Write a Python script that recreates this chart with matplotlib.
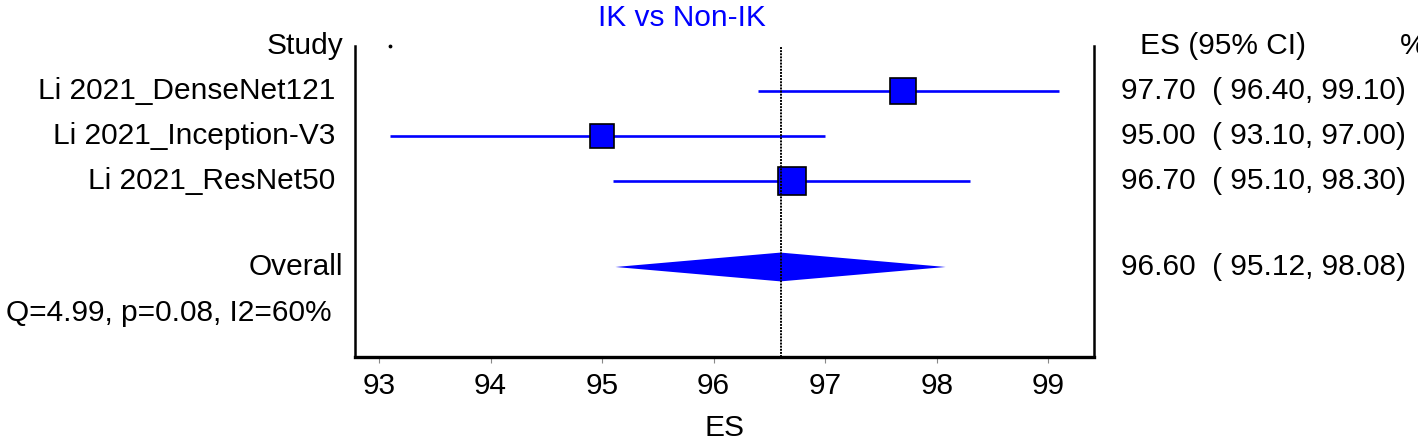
import matplotlib
matplotlib.use("Agg")
import matplotlib.pyplot as plt
import matplotlib.transforms as mtransforms
import numpy as np

plt.rcParams["font.family"] = ["Liberation Sans", "DejaVu Sans"]

# data
studies = ["Li 2021_DenseNet121", "Li 2021_Inception-V3", "Li 2021_ResNet50"]
es = [97.70, 95.00, 96.70]
ci_low = [96.40, 93.10, 95.10]
ci_high = [99.10, 97.00, 98.30]
weights = [35.3, 26.7, 38.0]   # (column cut off)
overall_es = 96.60
overall_low = 95.12
overall_high = 98.08
het_text = "Q=4.99, p=0.08, I2=60%"
xticks = [93, 94, 95, 96, 97, 98, 99]

W, H = 1418, 441
fig = plt.figure(figsize=(W / 100, H / 100), dpi=100)

# plot box in pixel terms of the reference
left_px, right_px, top_px, bot_px = 355, 1094, 46, 357
ax = fig.add_axes([left_px / W, 1 - bot_px / H,
                   (right_px - left_px) / W, (bot_px - top_px) / H])
ax.set_xlim(92.785, 99.41)
ax.set_ylim(6.91, 0)

blue = "#0000ff"
rows = np.arange(1, len(studies) + 1)
overall_row = 4.91
het_row = 5.93

# CI lines + squares
for r, e, lo, hi, w in zip(rows, es, ci_low, ci_high, weights):
    ax.plot([lo, hi], [r, r], color=blue, lw=1.9, solid_capstyle="butt", zorder=2)
    ax.plot(e, r, marker="s", ms=3.27 * np.sqrt(w), mfc=blue, mec="black",
            mew=1.2, zorder=3)

# overall diamond
hh = 0.32
ax.fill([overall_low, overall_es, overall_high, overall_es],
        [overall_row, overall_row - hh, overall_row, overall_row + hh],
        color=blue, lw=0, zorder=2)

# reference line at the overall estimate
ax.axvline(overall_es, color="black", lw=1.4, ls=(0, (1, 0.6)), zorder=4)
ax.plot(93.1, 0, marker=".", ms=3.5, color="black", clip_on=False)

# axes look
ax.spines["top"].set_visible(False)
for s in ["left", "right"]:
    ax.spines[s].set_linewidth(1.8)
ax.spines["bottom"].set_linewidth(2.4)
ax.set_yticks([])
ax.set_xticks(xticks)
ax.tick_params(axis="x", length=4, width=0.8, color="#888888",
               labelsize=21.5, pad=7)
ax.set_xlabel("ES", fontsize=21.5, labelpad=10)

# text columns
trans = mtransforms.blended_transform_factory(fig.transFigure, ax.transData)
fs = 21.5
ax.text(343 / W, 0, "Study", transform=trans, ha="right", va="center",
        fontsize=fs, clip_on=False)
for r, name in zip(rows, studies):
    ax.text(335 / W, r, name, transform=trans, ha="right", va="center",
            fontsize=fs, clip_on=False)
ax.text(343 / W, overall_row, "Overall", transform=trans, ha="right",
        va="center", fontsize=fs, clip_on=False)
ax.text(6 / W, het_row, het_text, transform=trans, ha="left", va="center",
        fontsize=fs, clip_on=False)

ax.text(1140 / W, 0, "ES (95% CI)", transform=trans, ha="left", va="center",
        fontsize=fs, clip_on=False)
ax.text(1400 / W, 0, "%", transform=trans, ha="left", va="center",
        fontsize=fs, clip_on=False)
for r, e, lo, hi in zip(rows, es, ci_low, ci_high):
    ax.text(1121 / W, r, f"{e:.2f}  ( {lo:.2f}, {hi:.2f})", transform=trans,
            ha="left", va="center", fontsize=fs, clip_on=False)
ax.text(1121 / W, overall_row,
        f"{overall_es:.2f}  ( {overall_low:.2f}, {overall_high:.2f})",
        transform=trans, ha="left", va="center", fontsize=fs, clip_on=False)

fig.text(682 / W, 1 - 18 / H, "IK vs Non-IK", color=blue, ha="center",
         va="center", fontsize=fs)

fig.savefig("out.png", dpi=100)
